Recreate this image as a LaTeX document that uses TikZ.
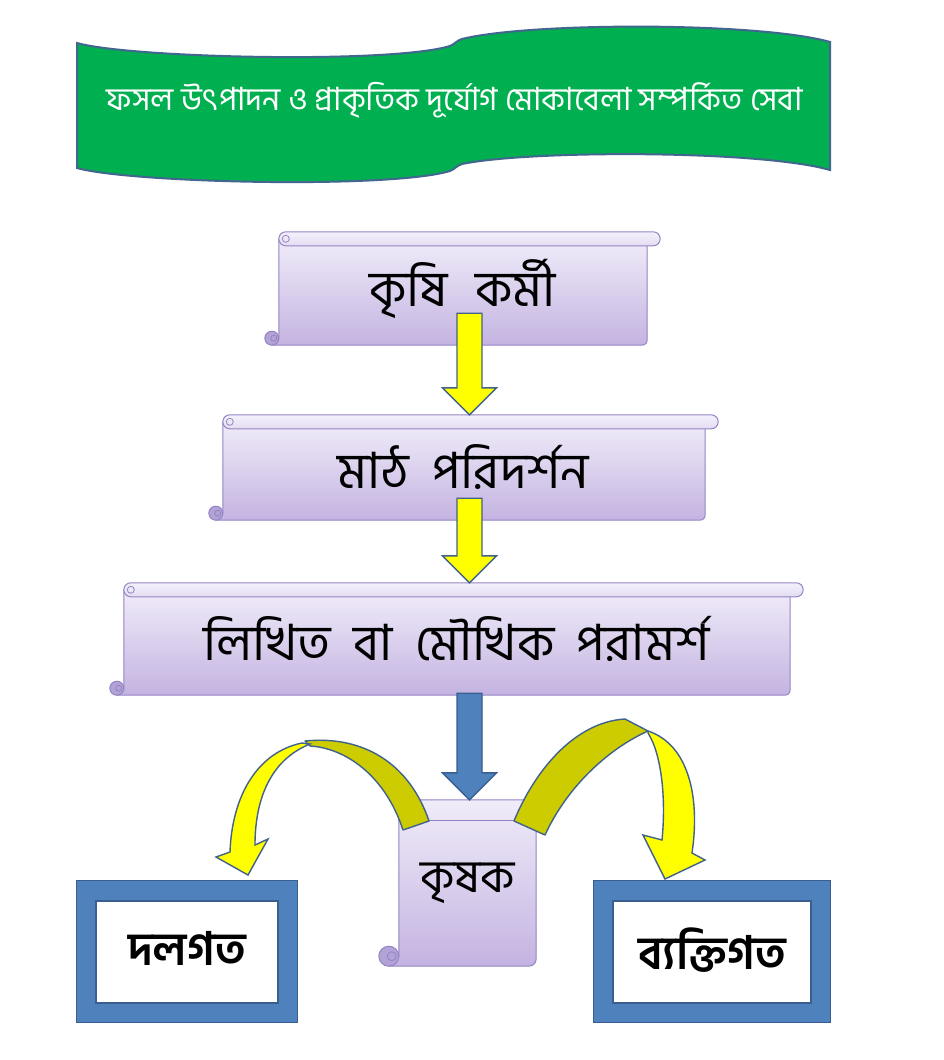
\documentclass[tikz,border=0pt]{standalone}
\usepackage{fontspec}
\newfontfamily\bn[Script=Bengali]{Hind Siliguri}
\usetikzlibrary{calc,backgrounds}
\definecolor{bannerG}{HTML}{00B050}
\definecolor{bannerB}{HTML}{41678F}
\definecolor{scrTop}{HTML}{F0ECF9}
\definecolor{scrBot}{HTML}{C4B3E1}
\definecolor{barTop}{HTML}{F4F1FB}
\definecolor{barBot}{HTML}{E4DCF2}
\definecolor{scrLine}{HTML}{9484C4}
\definecolor{curlF}{HTML}{B3A2D6}
\definecolor{arrY}{HTML}{FFFF00}
\definecolor{arrD}{HTML}{CCCC00}
\definecolor{arrL}{HTML}{41628A}
\definecolor{bluF}{HTML}{4F81BD}
\definecolor{bluL}{HTML}{385F8F}
\newcommand\gap{\hspace{0.45em}}
\tikzset{
  scrolltext/.style={inner sep=0pt, font=\bn\fontsize{50}{60}\selectfont},
  labeltext/.style={inner sep=0pt, draw=bluL, line width=1.2pt, fill=white,
     font=\bn\bfseries\fontsize{46}{54}\selectfont},
  titletext/.style={inner sep=0pt, text=white, font=\bn\fontsize{32}{38}\selectfont},
  scrollbody/.style={draw=scrLine, line width=1pt, top color=scrTop, bottom color=scrBot},
  scrollbar/.style={draw=scrLine, line width=1pt, top color=barTop, bottom color=barBot},
  scrollcurl/.style={draw=scrLine, line width=1pt, fill=curlF},
  scrollline/.style={draw=scrLine, line width=0.8pt},
  yarrow/.style={fill=arrY, draw=arrL, line width=1.4pt, line join=miter},
  darrow/.style={fill=arrD, draw=arrL, line width=1.4pt, line join=round},
  barrow/.style={fill=bluF, draw=bluL, line width=1.4pt, line join=miter},
  frame/.style={fill=bluF, draw=bluL, line width=1.2pt},
}
\newcommand\hscroll[1]{%
  \path[scrollbody] let \p1=(#1.north west), \p2=(#1.south east) in
    (\x1+14pt,\y1-7pt) -- (\x2-13pt,\y1-7pt) -- (\x2-13pt,\y2+6pt)
    .. controls (\x2-13pt,\y2+2pt) and (\x2-15pt,\y2) .. (\x2-19pt,\y2)
    -- (\x1+7pt,\y2) -- (\x1+7pt,\y2+7pt) -- (\x1+14pt,\y2+7pt) -- cycle;
  \path[scrollbar] let \p1=(#1.north west), \p2=(#1.south east) in
    [rounded corners=7pt] (\x1+14pt,\y1) rectangle (\x2,\y1-14pt);
  \path[scrollcurl] let \p1=(#1.north west), \p2=(#1.south east) in
    (\x1+7pt,\y2+7pt) circle[radius=7pt];
  \path[scrollline] let \p1=(#1.north west), \p2=(#1.south east) in
    (\x1+9pt,\y2+7pt) circle[radius=3pt]
    (\x1+21pt,\y1-7pt) circle[radius=3.5pt];
}
\newcommand\blockarrow[3]{%
  \path[#3] let \p1=(#1), \p2=(#2) in
    (\x1-12.5pt,\y1) -- (\x1+12.5pt,\y1) -- (\x1+12.5pt,\y2+27pt)
    -- (\x1+27pt,\y2+27pt) -- (\x1,\y2) -- (\x1-27pt,\y2+27pt)
    -- (\x1-12.5pt,\y2+27pt) -- cycle;
}
\begin{document}
\begin{tikzpicture}[x=1pt,y=-1pt]
\useasboundingbox (0,0) rectangle (944,1060);
% ---- text nodes
\node[titletext] (title) at (455,100) {ফসল উৎপাদন ও প্রাকৃতিক দূর্যোগ মোকাবেলা সম্পর্কিত সেবা};
\node[scrolltext, minimum width=395pt, minimum height=113pt] (s1) at (462.5,288.5) {কৃষি\hspace{0.55em}কর্মী};
\node[scrolltext, minimum width=509pt, minimum height=105pt] (s2) at (463.5,467.5) {মাঠ\gap পরিদর্শন};
\node[scrolltext, minimum width=693pt, minimum height=112pt] (s3) at (456.5,639) {লিখিত\gap বা\gap মৌখিক\gap পরামর্শ};
\node[scrolltext, minimum width=157pt, minimum height=166pt] (s4) at (457.5,883) {\raisebox{10pt}{\hspace{20pt}\fontsize{46}{54}\selectfont কৃষক}};
\node[labeltext, minimum width=182pt, minimum height=102pt] (g) at (187,952) {\raisebox{7pt}{দলগত}};
\node[labeltext, minimum width=198pt, minimum height=102pt] (v) at (712,952) {\raisebox{7pt}{ব্যক্তিগত}};
% ---- shapes behind
\begin{scope}[on background layer]
  \fill[white] (0,0) rectangle (944,1060);
  \draw[fill=bannerG, draw=bannerB, line width=2pt]
    (77,43) .. controls (130,58) and (390,64) .. (450,46)
    .. controls (455,44) and (456,41) .. (462,39)
    .. controls (530,22) and (760,22) .. (830,42)
    -- (830,170)
    .. controls (760,150) and (530,150) .. (462,164)
    .. controls (456,166) and (455,169) .. (450,171)
    .. controls (390,189) and (130,183) .. (77,168)
    -- cycle;
  \hscroll{s1}
  \hscroll{s2}
  \hscroll{s3}
  % vertical scroll
  \path[scrollbody] let \p1=(s4.north west), \p2=(s4.south east) in
    (\x1+20pt,\y1) -- (\x2-8pt,\y1) .. controls (\x2-3pt,\y1) and (\x2,\y1-3pt) .. (\x2,\y1-8pt)
    -- (\x2,\y2+8pt) .. controls (\x2,\y2+3pt) and (\x2-3pt,\y2) .. (\x2-8pt,\y2)
    -- (\x1+10pt,\y2) -- (\x1+10pt,\y2+10pt) -- (\x1+20pt,\y2+10pt) -- cycle;
  \path[scrollline, line width=1pt] let \p1=(s4.north west), \p2=(s4.south east) in
    (\x1+20pt,\y1-21pt) -- (\x2,\y1-21pt);
  \path[scrollcurl] let \p1=(s4.north west), \p2=(s4.south east) in
    (\x1+10pt,\y2+10pt) circle[radius=10pt];
  \path[scrollline] let \p1=(s4.north west), \p2=(s4.south east) in
    (\x1+13pt,\y2+10pt) circle[radius=4.5pt];
  % frames
  \path[frame] let \p1=(g.north west), \p2=(g.south east) in
    (\x1-19pt,\y1+20pt) rectangle (\x2+19pt,\y2-19pt);
  \path[frame] let \p1=(v.north west), \p2=(v.south east) in
    (\x1-19pt,\y1+20pt) rectangle (\x2+19pt,\y2-19pt);
\end{scope}
% ---- straight block arrows
\coordinate (a1s) at ($(s1.south)+(7,-32)$);
\coordinate (a1e) at (a1s |- s2.north);
\coordinate (a2s) at ($(s2.south)+(6,-22)$);
\coordinate (a2e) at (a2s |- s3.north);
\coordinate (a3s) at ($(s3.south)+(13,-2)$);
\coordinate (a3e) at (a3s |- s4.north);
\blockarrow{a1s}{a1e}{yarrow}
\blockarrow{a2s}{a2e}{yarrow}
\blockarrow{a3s}{a3e}{barrow}
% ---- curved arrow: krishak -> dalagata
\draw[darrow] (429,821) .. controls (410,765) and (365,735) .. (305,741)
   -- (310,746) .. controls (345,748) and (385,775) .. (403,830) -- cycle;
\draw[yarrow] (302,743) .. controls (258,752) and (232,795) .. (230,852)
   -- (216,857) -- (248,875) -- (268,839) -- (255,845)
   .. controls (255,800) and (270,760) .. (310,744) -- cycle;
% ---- curved arrow: krishak -> byaktigata
\draw[darrow] (514,821) .. controls (535,770) and (575,722) .. (625,719)
   -- (648,731) .. controls (610,748) and (568,785) .. (545,835) -- cycle;
\draw[yarrow] (648,731) .. controls (690,745) and (700,800) .. (692,853)
   -- (705,860) -- (665,879) -- (643,835) -- (662,840)
   .. controls (666,800) and (662,755) .. (648,733) -- cycle;
\end{tikzpicture}
\end{document}
